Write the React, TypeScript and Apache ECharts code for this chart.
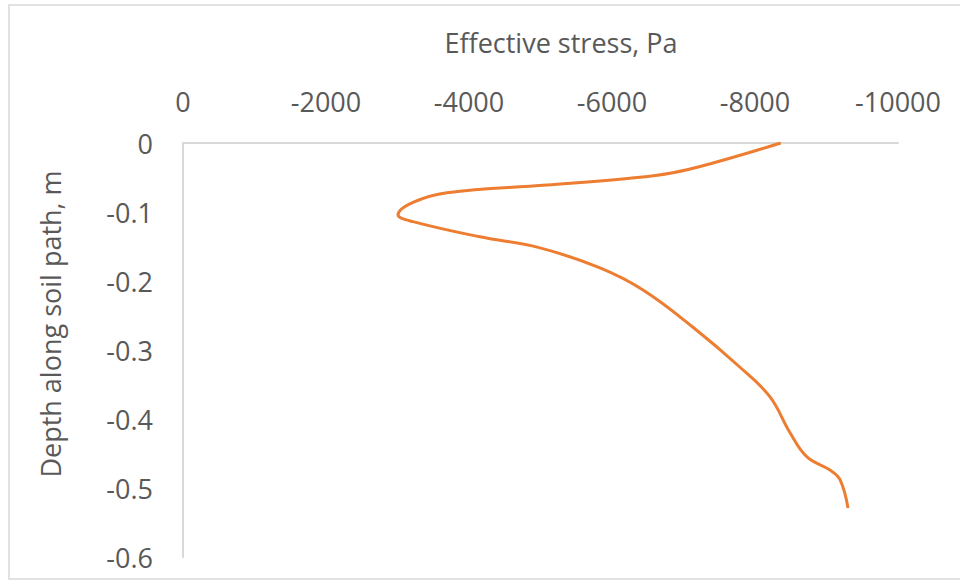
import React, { useEffect, useRef } from "react";
import * as echarts from "echarts";

const stress = [-8360, -7413, -6853, -6252, -5091, -3692, -3217, -3007, -3217, -4154, -4993, -5832, -6434, -7133, -7790, -8210, -8490, -8727, -9049, -9189, -9301];
const depth = [0, -0.029, -0.043, -0.051, -0.061, -0.072, -0.086, -0.104, -0.114, -0.136, -0.152, -0.181, -0.213, -0.267, -0.325, -0.368, -0.42, -0.455, -0.474, -0.488, -0.529];

const xTitle = "Effective stress, Pa";
const yTitle = "Depth along soil path, m";

export default function App() {
  const ref = useRef<HTMLDivElement>(null);
  useEffect(() => {
    if (!ref.current) return;
    const chart = echarts.init(ref.current, null, { renderer: "svg" });
    const font = "'Open Sans', sans-serif";
    const labelColor = "#595959";
    chart.setOption({
      animation: false,
      grid: { left: 183, right: 62, top: 143, bottom: 25, containLabel: false },
      xAxis: {
        type: "value",
        position: "top",
        inverse: true,
        min: -10000,
        max: 0,
        interval: 2000,
        axisLine: { show: true, onZero: false, lineStyle: { color: "#d9d9d9", width: 2 } },
        axisTick: { show: false },
        splitLine: { show: false },
        axisLabel: {
          color: labelColor,
          fontSize: 27,
          fontFamily: font,
          margin: 28,
          formatter: (v: number) => String(Math.round(v)),
        },
      },
      yAxis: {
        type: "value",
        min: -0.6,
        max: 0,
        interval: 0.1,
        axisLine: { show: true, onZero: false, lineStyle: { color: "#d9d9d9", width: 2 } },
        axisTick: { show: false },
        splitLine: { show: false },
        axisLabel: {
          color: labelColor,
          fontSize: 27,
          fontFamily: font,
          margin: 30,
          formatter: (v: number) => String(Math.round(v * 10) / 10),
        },
      },
      series: [
        {
          type: "line",
          data: stress.map((s, i) => [s, depth[i]]),
          smooth: 0.4,
          showSymbol: false,
          symbol: "none",
          lineStyle: { color: "#ED7D31", width: 3 },
        },
      ],
      graphic: [
        {
          type: "rect",
          shape: { x: 9, y: 5, width: 960, height: 574 },
          style: { fill: "none", stroke: "#d9d9d9", lineWidth: 1.5 },
          z: -1,
        },
        {
          type: "text",
          x: 561,
          y: 42,
          style: {
            text: xTitle,
            fill: labelColor,
            font: `27px ${font}`,
            textAlign: "center",
            textVerticalAlign: "middle",
          },
        },
        {
          type: "text",
          x: 50,
          y: 324,
          rotation: Math.PI / 2,
          style: {
            text: yTitle,
            fill: labelColor,
            font: `27px ${font}`,
            textAlign: "center",
            textVerticalAlign: "middle",
          },
        },
      ],
    });
    return () => chart.dispose();
  }, []);
  return (
    <div
      ref={ref}
      style={{ position: "fixed", left: 0, top: 0, width: 960, height: 582, background: "#fff" }}
    />
  );
}
